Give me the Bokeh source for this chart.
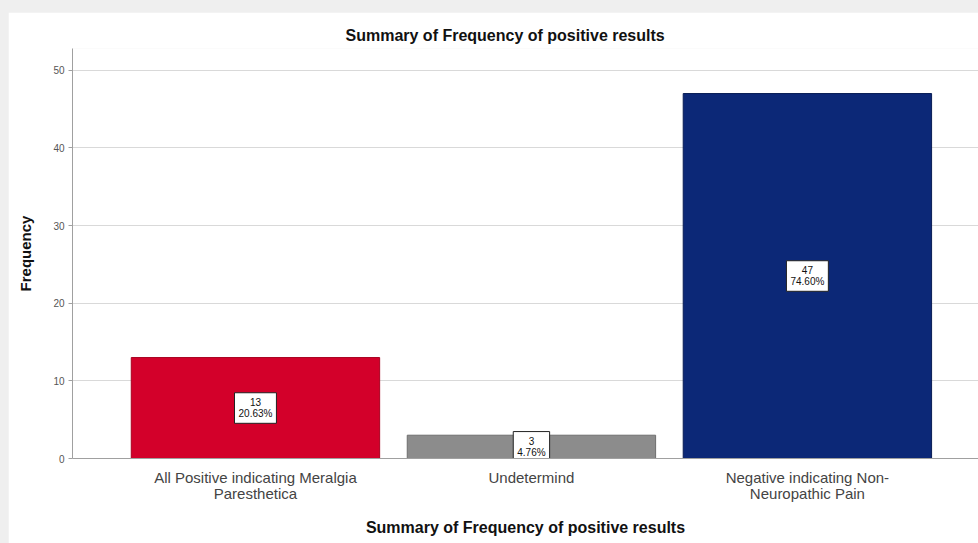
from bokeh.plotting import figure
from bokeh.models import Range1d, FixedTicker, ColumnDataSource
from bokeh.core.properties import value
from bokeh.layouts import column
from bokeh.embed import file_html
from bokeh.resources import INLINE

categories = ["All Positive indicating Meralgia\nParesthetica", "Undetermind",
              "Negative indicating Non-\nNeuropathic Pain"]
counts = [13, 3, 47]
percents = ["20.63%", "4.76%", "74.60%"]
colors = ["#D3002A", "#8C8C8C", "#0C2877"]
edge_colors = ["#A80020", "#6E6E6E", "#081C55"]
y_ticks = [0, 10, 20, 30, 40, 50]

xs = list(range(len(categories)))
src = ColumnDataSource(dict(
    x=xs, top=counts, color=colors, edge=edge_colors,
    mid=[c / 2 for c in counts],
    lab=[f"{c}\n{p}" for c, p in zip(counts, percents)],
))

FONT = "Liberation Sans"

p = figure(width=970, height=531, output_backend="svg", toolbar_location=None,
           x_range=Range1d(-0.663, 2.62), y_range=Range1d(0, 52.8),
           min_border_left=64, min_border_right=0, min_border_top=36,
           min_border_bottom=85)
p.title.text = "Summary of Frequency of positive results"
p.title.align = "left"
p.title.offset = 273
p.title.text_font = FONT
p.title.text_font_size = "16px"
p.title.text_font_style = "bold"
p.title.text_color = "#111111"

p.vbar(x="x", top="top", bottom=0, width=0.9, source=src,
       fill_color="color", line_color="edge", line_width=1)

p.text(x="x", y="mid", text="lab", source=src,
       text_align="center", text_baseline="middle",
       text_font=value(FONT), text_font_size="10px", text_color="#111111",
       text_line_height=1.05,
       background_fill_color="white", border_line_color="#222222",
       border_line_width=1, padding=4)

p.outline_line_color = None
p.background_fill_color = "white"
p.border_fill_color = "white"

p.xgrid.grid_line_color = None
p.ygrid.grid_line_color = "#D9D9D9"
p.ygrid.grid_line_width = 1
p.yaxis.ticker = FixedTicker(ticks=y_ticks)
p.xaxis.ticker = FixedTicker(ticks=xs)
p.xaxis.major_label_overrides = {i: c for i, c in zip(xs, categories)}

p.xaxis.axis_line_color = "#A0A0A0"
p.xaxis.major_tick_line_color = None
p.xaxis.minor_tick_line_color = None
p.xaxis.major_label_standoff = 4
p.xaxis.major_label_text_font = FONT
p.xaxis.major_label_text_font_size = "15px"
p.xaxis.major_label_text_line_height = 0.95
p.xaxis.major_label_text_color = "#444444"
p.xaxis.axis_label = "Summary of Frequency of positive results"
p.xaxis.axis_label_text_font = FONT
p.xaxis.axis_label_text_font_size = "16px"
p.xaxis.axis_label_text_font_style = "bold"
p.xaxis.axis_label_text_color = "#111111"
p.xaxis.axis_label_standoff = 14

p.yaxis.axis_line_color = "#A0A0A0"
p.yaxis.major_tick_line_color = "#A0A0A0"
p.yaxis.major_tick_out = 4
p.yaxis.major_tick_in = 0
p.yaxis.minor_tick_line_color = None
p.yaxis.major_label_text_font = FONT
p.yaxis.major_label_text_font_size = "10px"
p.yaxis.major_label_text_color = "#555555"
p.yaxis.major_label_standoff = 4
p.yaxis.axis_label = "Frequency"
p.yaxis.axis_label_text_font = FONT
p.yaxis.axis_label_text_font_size = "15px"
p.yaxis.axis_label_text_font_style = "bold"
p.yaxis.axis_label_text_color = "#111111"
p.yaxis.axis_label_standoff = 16

layout = column(p, styles={"background-color": "#EFEFEF",
                           "padding-top": "12px", "padding-left": "8px"})

open("out.html", "w").write(file_html(layout, INLINE))
